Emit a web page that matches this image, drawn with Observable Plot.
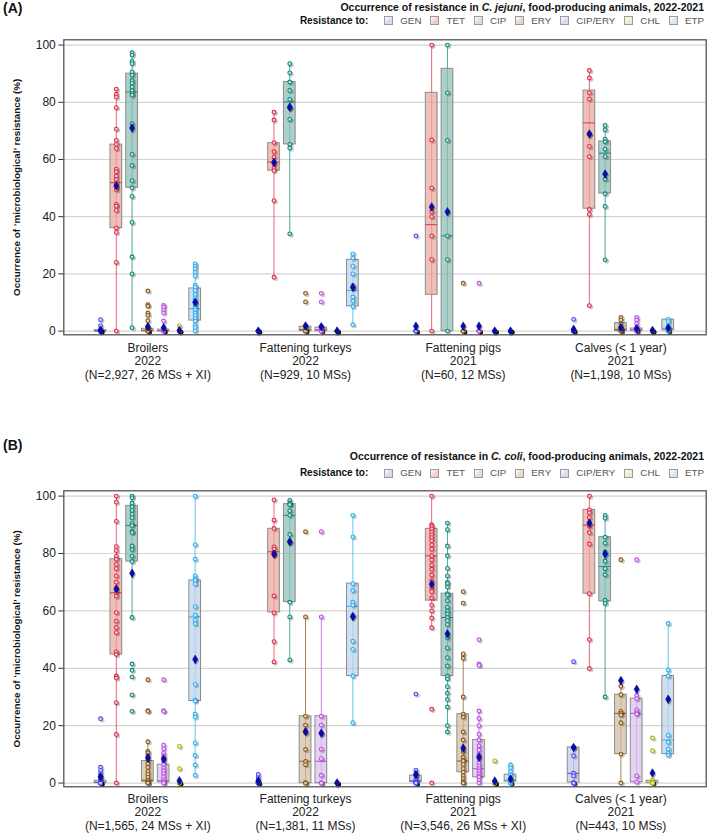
<!DOCTYPE html>
<html><head><meta charset="utf-8">
<script src="https://cdn.jsdelivr.net/npm/d3@7"></script>
<script src="https://cdn.jsdelivr.net/npm/@observablehq/plot@0.6"></script>
<style>
body{margin:0;background:#fff;}
#wrap{position:relative;width:709px;height:834px;font-family:"Liberation Sans",Arial,sans-serif;overflow:hidden;color:#111}
.abs{position:absolute;white-space:nowrap}
.tag{font-weight:bold;font-size:14px;left:3px}
.title{font-weight:bold;font-size:10.5px;right:5px;line-height:12px}
.legend{display:flex;align-items:center;font-size:9.8px;color:#555;right:5px;line-height:12px}
.legend b{color:#111;margin-right:16px;font-size:10px}
.sw{display:inline-block;width:7px;height:7px;border:1px solid #9a9a9a;margin-right:7px}
.lab{margin-right:9px}
.lab:last-child{margin-right:0}
svg{position:absolute;left:0}
</style></head>
<body><div id="wrap"></div>
<script>
const groups = ["Broilers","Fattening turkeys","Fattening pigs","Calves (< 1 year)"];
const drugs = ["GEN","TET","CIP","ERY","CIP/ERY","CHL","ETP"];
const jejuniYears = ["2022","2022","2021","2021"];
const jejuniN = ["(N=2,927, 26 MSs + XI)","(N=929, 10 MSs)","(N=60, 12 MSs)","(N=1,198, 10 MSs)"];
const coliYears = ["2022","2022","2021","2021"];
const coliN = ["(N=1,565, 24 MSs + XI)","(N=1,381, 11 MSs)","(N=3,546, 26 MSs + XI)","(N=443, 10 MSs)"];
const yTicks = [0,20,40,60,80,100];

// box statistics: group, antimicrobial, whisker low, Q1, median, Q3, whisker high, mean
const jejuniBox = [
["Broilers","GEN",0,0,0,0.3,0.6,0.3],
["Broilers","TET",0,36,51.9,65.2,84.6,50.8],
["Broilers","CIP",1.2,50.1,83.6,90,97.3,71],
["Broilers","ERY",0,0,0.2,0.8,1.5,1.5],
["Broilers","CIP/ERY",0,0,0,0.5,1,1.2],
["Broilers","CHL",0,0,0,0,0,0.2],
["Broilers","ETP",0,3.7,7.8,14.9,23.5,10.1],
["Fattening turkeys","GEN",0,0,0,0,0,0],
["Fattening turkeys","TET",18.8,56.1,59.1,65.7,76.5,59],
["Fattening turkeys","CIP",34,65.3,80.1,87.1,93.5,78.3],
["Fattening turkeys","ERY",0,0,0.5,1.5,1.8,1.8],
["Fattening turkeys","CIP/ERY",0,0,0.5,1.2,1.5,1.5],
["Fattening turkeys","CHL",0,0,0,0,0,0],
["Fattening turkeys","ETP",2.2,8.7,14.2,24.9,27,15.3],
["Fattening pigs","GEN",0,0,0,0,0,1.7],
["Fattening pigs","TET",0,12.7,37.2,83.3,100,43.4],
["Fattening pigs","CIP",0,0,33.3,91.7,100,41.7],
["Fattening pigs","ERY",0,0,0,0,0,1.7],
["Fattening pigs","CIP/ERY",0,0,0,0,0,1.7],
["Fattening pigs","CHL",0,0,0,0,0,0],
["Fattening pigs","ETP",0,0,0,0,0,0],
["Calves (< 1 year)","GEN",0,0,0,0,0,0.6],
["Calves (< 1 year)","TET",8.9,42.8,72.8,84.1,91.1,68.9],
["Calves (< 1 year)","CIP",24.9,48.1,62.2,66.3,71.9,54.9],
["Calves (< 1 year)","ERY",0,0,0.6,2.8,4.8,1.2],
["Calves (< 1 year)","CIP/ERY",0.1,0.1,0.4,0.9,1.3,0.8],
["Calves (< 1 year)","CHL",0,0,0,0,0,0.2],
["Calves (< 1 year)","ETP",0,0.3,1,4,4.1,1.05]
];
const jejuniPoints = [
["Broilers","GEN",[4,1.9,0.6,0,0,0,0,0,0,0,0,0,0]],
["Broilers","TET",[84.6,82.8,81.8,78.1,70.6,66.7,65.3,63.8,56.6,55.7,54.2,53,51.7,50.3,49.4,44.3,43.7,42.2,36.1,34.5,24,0]],
["Broilers","CIP",[97.3,96.5,94.3,93.5,90.6,89.5,87.6,86.7,85.3,84.1,83,82.5,72.5,61.8,57.9,52.6,50.1,47.1,38,25.9,20,1.2]],
["Broilers","ERY",[14,9.2,8.7,6.3,5.5,3.6,1.5,0.6,0.3,0,0,0,0,0,0,0,0]],
["Broilers","CIP/ERY",[9,8.4,7.3,6.3,3.5,0.8,0.3,0,0,0,0,0,0,0,0]],
["Broilers","CHL",[1.8,0,0,0,0,0,0,0,0,0,0,0,0]],
["Broilers","ETP",[23.5,22.7,21.8,20.5,19.3,16,15.3,14.2,12.8,11.5,10.5,9.8,8.9,8,7.3,6.3,5.5,4.5,3.5,2,1.2,0]],
["Fattening turkeys","GEN",[0,0,0,0,0,0,0,0,0,0]],
["Fattening turkeys","TET",[76.5,73.8,65.9,62.7,60.8,58.5,56.9,56.1,45.6,18.8]],
["Fattening turkeys","CIP",[93.5,90.3,87.1,84.1,81,78,74,65.3,64,34]],
["Fattening turkeys","ERY",[13.2,10.2,1.8,0.5,0.3,0,0,0,0,0]],
["Fattening turkeys","CIP/ERY",[13.2,10.2,1.5,0.6,0.2,0,0,0,0,0]],
["Fattening turkeys","CHL",[0,0,0,0,0,0,0,0,0,0]],
["Fattening turkeys","ETP",[27,25.5,22.7,20,16,15.2,11.9,10.5,8.6,2.2]],
["Fattening pigs","GEN",[33.3,0,0,0,0,0,0,0,0,0,0,0]],
["Fattening pigs","TET",[100,66.8,50,41.7,40,33.3,25,0]],
["Fattening pigs","CIP",[100,83.3,66.7,33.3,25,0]],
["Fattening pigs","ERY",[16.7,0,0,0,0,0,0,0,0,0,0,0]],
["Fattening pigs","CIP/ERY",[16.7,0,0,0,0,0,0,0,0,0,0,0]],
["Fattening pigs","CHL",[0,0,0,0,0,0,0,0,0,0,0,0]],
["Fattening pigs","ETP",[0,0,0,0,0,0,0,0,0,0,0,0]],
["Calves (< 1 year)","GEN",[4.1,0,0,0,0,0,0,0,0,0]],
["Calves (< 1 year)","TET",[91.1,88.5,83.3,81.1,69,64.6,61,42.5,40.8,8.9]],
["Calves (< 1 year)","CIP",[71.9,70.4,67.1,66.2,63.6,61,53.1,48,43.6,24.9]],
["Calves (< 1 year)","ERY",[4.8,3.9,2.4,1.2,0.8,0,0,0,0,0]],
["Calves (< 1 year)","CIP/ERY",[4.8,3.9,2.6,1.3,0.7,0.2,0,0,0,0]],
["Calves (< 1 year)","CHL",[0.4,0,0,0,0,0,0,0,0,0]],
["Calves (< 1 year)","ETP",[4.1,3.3,1.9,0.7,0,0,0,0,0,0]]
];
const coliBox = [
["Broilers","GEN",0,0,0.3,0.8,5.5,2.2],
["Broilers","TET",0,44.8,66.3,78,100,67.6],
["Broilers","CIP",57.7,77.2,89.8,96.6,100,73.1],
["Broilers","ERY",0,0.5,1,7.7,14.4,8.8],
["Broilers","CIP/ERY",0,0.3,0.8,6.4,13.2,8.4],
["Broilers","CHL",0,0,0,0,0,0.8],
["Broilers","ETP",2.7,28.6,57.9,70.6,100,43.1],
["Fattening turkeys","GEN",0,0,0,0,0,0.7],
["Fattening turkeys","TET",42.2,59.5,80.6,88.6,98.7,79.8],
["Fattening turkeys","CIP",42.9,63.1,93.3,97.2,98.5,84.1],
["Fattening turkeys","ERY",0,0,7.6,23.3,57.9,18],
["Fattening turkeys","CIP/ERY",0,0,7.6,23.3,57.9,17.4],
["Fattening turkeys","CHL",0,0,0,0,0,0],
["Fattening turkeys","ETP",21,37.3,61.6,69.5,93.3,58],
["Fattening pigs","GEN",0,0.3,0.8,2.6,4.5,2.9],
["Fattening pigs","TET",54.1,63.6,79.2,88.6,100,69.3],
["Fattening pigs","CIP",17.8,37.3,57.7,66,90.6,52],
["Fattening pigs","ERY",0,3.8,7.7,24,45,12.2],
["Fattening pigs","CIP/ERY",0,2,5,15,25.1,9.1],
["Fattening pigs","CHL",0,0,0,0,0,0.7],
["Fattening pigs","ETP",0,0.5,1,2.9,6.3,1.4],
["Calves (< 1 year)","GEN",0,0.2,3.4,12.4,12.4,12.4],
["Calves (< 1 year)","TET",39.9,66,89.9,95.2,100,90.6],
["Calves (< 1 year)","CIP",30,63.3,75.5,85.7,93.3,79.8],
["Calves (< 1 year)","ERY",0,10.1,24.3,30.8,33.7,35.7],
["Calves (< 1 year)","CIP/ERY",0.3,0.3,24.3,29.4,30.5,32.7],
["Calves (< 1 year)","CHL",0,0,0.3,0.8,1,3.5],
["Calves (< 1 year)","ETP",9.7,10.1,15,37.3,55.6,29.2]
];
const coliPoints = [
["Broilers","GEN",[22.4,5.5,4.4,3.3,2.4,1.6,0.8,0.3,0,0,0,0,0,0,0,0,0,0,0,0]],
["Broilers","TET",[100,97.9,91.2,82.4,81,79,78,76.2,74.7,72.2,70,68,66.4,65.1,59.4,56.4,54.2,52.4,45.7,44.8,37.3,36.6,28,16.9,0]],
["Broilers","CIP",[100,99.4,97.5,96.3,95,93.7,92.5,90.4,89.7,87.7,87.3,82.6,81.4,79.1,77.2,57.7,41.5,39.3,37,30.7,25]],
["Broilers","ERY",[36,25.2,25,14.4,11,10.5,9.5,8,6.7,5.5,4,3,2,1,0.5,0,0,0]],
["Broilers","CIP/ERY",[36,25.2,25,13.2,12,10.5,9.5,8.7,7.5,6.5,5.2,4.3,3.3,2.2,1.2,0.5,0,0]],
["Broilers","CHL",[12.8,5,0,0,0,0,0,0,0,0,0,0]],
["Broilers","ETP",[100,83.1,78,72.2,71.2,70.6,69.4,61.5,58.5,56.7,55.5,34.4,29,28.6,24,23,14,9.6,6.3,2.7]],
["Fattening turkeys","GEN",[3,1.8,0.6,0,0,0,0,0,0,0,0]],
["Fattening turkeys","TET",[98.7,91.6,88.7,82.3,81.5,80.3,79.5,65.2,59.3,49.3,42.2]],
["Fattening turkeys","CIP",[98.5,97.6,97.2,97,94.9,93.3,86.6,84,63,57.9,42.9]],
["Fattening turkeys","ERY",[87.6,57.9,23.3,20.2,17.5,11.7,7.5,6.4,0,0,0]],
["Fattening turkeys","CIP/ERY",[87.6,57.9,23.3,20.2,17.3,11.8,8.5,2.7,0,0,0]],
["Fattening turkeys","CHL",[0,0,0,0,0,0,0,0,0,0,0]],
["Fattening turkeys","ETP",[93.3,85.8,69.5,67.1,63,62,58.5,49.4,46.6,37.3,21]],
["Fattening pigs","GEN",[31,4.5,3.5,2.5,1.5,0.5,0,0,0,0,0,0,0,0,0]],
["Fattening pigs","TET",[100,90,89.5,88.6,87.5,86.5,85.5,84.5,83,81.5,79.2,77.8,76,74.5,72.5,70.5,68,66.7,64.5,62,60,57.5,54.1,25.7,0]],
["Fattening pigs","CIP",[90.6,88.3,82.6,79.2,74.8,72.2,70,69.5,68.3,66,65.6,63.6,61.3,59.9,59,57.7,56.6,55.2,50.6,47.1,43.7,40.8,37.3,36.3,33.6,31.3,29.1,26.5,20,17.8]],
["Fattening pigs","ERY",[66.7,62.7,45,43.5,30,24,23,17.8,15,11,9,8,7.7,6.5,5,3.8,2.5,1.5,0.5,0,0]],
["Fattening pigs","CIP/ERY",[50,41.5,41,25.1,22.5,20,17,15,13,11.5,10,8.5,7,6,5,4.2,3.3,2.5,2,1,0]],
["Fattening pigs","CHL",[7.7,0,0,0,0,0,0,0,0,0,0,0,0,0,0]],
["Fattening pigs","ETP",[6.3,5.3,4,2.9,1.5,0.5,0,0,0,0,0,0]],
["Calves (< 1 year)","GEN",[42.3,12.4,9.5,3.4,2.5,0,0,0,0,0]],
["Calves (< 1 year)","TET",[100,95.2,94.2,92.5,89.5,87.3,83.3,66,50,39.9]],
["Calves (< 1 year)","CIP",[93.3,92.3,85.7,83.6,80.5,77.3,74.7,72.6,63.7,62.6,30]],
["Calves (< 1 year)","ERY",[77.8,33.7,30.8,25,24.3,23.7,21,10.1,0]],
["Calves (< 1 year)","CIP/ERY",[77.8,30.5,29.4,25.5,24.5,24,2.5,0.3]],
["Calves (< 1 year)","CHL",[15.7,11.3,1,0.3,0,0,0,0,0]],
["Calves (< 1 year)","ETP",[55.6,39.4,37.3,16.7,14.2,11.8,10.4,9.7]]
];

const mainColor = {"GEN":"#4b4bf0","TET":"#e0304c","CIP":"#128a7a","ERY":"#8a5a1c","CIP/ERY":"#c050e8","CHL":"#a6b822","ETP":"#2fb2f0"};
const boxColor = {"GEN":"#c9d0ee","TET":"#eeaea4","CIP":"#93c5bb","ERY":"#d8c4aa","CIP/ERY":"#e0c8f2","CHL":"#e9e9b8","ETP":"#c4d9f1"};
const paleColor = {"GEN":"#d6d6ff","TET":"#f8c8d0","CIP":"#bfe3dc","ERY":"#e6d2b8","CIP/ERY":"#f0d2fa","CHL":"#eef2b0","ETP":"#c8ecff"};
const swatchColor = {"GEN":"#d3dbef","TET":"#f3cbc8","CIP":"#cfe4df","ERY":"#e8d8c8","CIP/ERY":"#e5d3f2","CHL":"#efebc4","ETP":"#d6e4f4"};

const gi = Object.fromEntries(groups.map((g,i)=>[g,i]));
const di = Object.fromEntries(drugs.map((d,i)=>[d,i]));
const pos = (g,d) => gi[g]*10 + di[d];
const HW = 0.37;

const wrap = document.getElementById("wrap");
function addDiv(cls, html, top){
  const el = document.createElement("div");
  el.className = "abs " + cls; el.innerHTML = html; el.style.top = top + "px";
  wrap.appendChild(el); return el;
}
function legendHTML(){
  return "<b>Resistance to:</b>" + drugs.map(d=>`<span class="sw" style="background:linear-gradient(135deg,#fff 0%,${swatchColor[d]} 60%)"></span><span class="lab">${d}</span>`).join("");
}

function panel(boxRows, ptRows, years, ns, svgTop, height, marginBottom, labelDy){
  const boxes = boxRows.map(([g,d,lo,q1,med,q3,hi,mean])=>({g,d,x:pos(g,d),lo,q1,med,q3,hi,mean}));
  const pts = ptRows.flatMap(([g,d,vals])=>vals.map(v=>({g,d,x:pos(g,d),v})));
  const labels = groups.map((g,i)=>({x:pos(g,"ERY"), text: g + "\n" + years[i] + "\n" + ns[i]}));
  const svg = Plot.plot({
    width: 709, height, marginTop: 5.3, marginBottom, marginLeft: 63.3, marginRight: 3.3,
    style: {fontFamily: "'Liberation Sans', Arial, sans-serif", fontSize: "12px", color: "#222", background: "transparent", overflow: "visible"},
    x: {domain: [-2.33, 38.41], axis: null},
    y: {domain: [-1.3, 101.85], axis: null},
    color: {type: "identity"},
    marks: [
      Plot.gridY(yTicks, {stroke: "#d4d4d4", strokeOpacity: 1, strokeWidth: 1.2}),
      Plot.ruleX(boxes.filter(b=>b.hi>b.lo), {x: "x", y1: "lo", y2: "hi", stroke: d=>mainColor[d.d], strokeWidth: 1, strokeOpacity: 0.75}),
      Plot.rect(boxes.filter(b=>b.q3>b.q1), {x1: d=>d.x-HW+0.06, x2: d=>d.x+HW+0.06, y1: "q1", y2: "q3", fill: "#000", fillOpacity: 0.08, dy: 1}),
      Plot.rect(boxes.filter(b=>b.q3>b.q1), {x1: d=>d.x-HW, x2: d=>d.x+HW, y1: "q1", y2: "q3", fill: d=>boxColor[d.d], fillOpacity: 0.72, stroke: "#8c8c8c", strokeWidth: 1}),
      Plot.ruleY(boxes.filter(b=>b.q3>b.q1), {y: "med", x1: d=>d.x-HW, x2: d=>d.x+HW, stroke: d=>mainColor[d.d], strokeWidth: 1}),
      Plot.dot(pts, {x: "x", y: "v", r: 2.4, fill: "#000", fillOpacity: 0.22, dx: 1.6, dy: 1.4}),
      Plot.dot(pts, {x: "x", y: "v", r: 1.9, fill: d=>paleColor[d.d], stroke: d=>mainColor[d.d], strokeWidth: 1.1}),
      Plot.dot(boxes, {x: "x", y: "mean", symbol: "diamond", r: 2.7, fill: "#000", fillOpacity: 0.3, dx: 1.4, dy: 1.4}),
      Plot.dot(boxes, {x: "x", y: "mean", symbol: "diamond", r: 2.6, fill: "#0a0ab4", stroke: "#00008a", strokeWidth: 0.6}),
      Plot.frame({stroke: "#555", strokeWidth: 1.3}),
      Plot.axisY(yTicks, {tickSize: 5, tickPadding: 3, fontSize: 12, label: null, stroke: "#333"}),
      Plot.text(["Occurrence of \u2018microbiological\u2019 resistance (%)"], {frameAnchor: "left", textAnchor: "middle", rotate: -90, dx: -47, fontWeight: "bold", fontSize: 9.9, fill: "#111"}),
      Plot.text(labels, {x: "x", text: "text", frameAnchor: "bottom", lineAnchor: "top", dy: labelDy, fontSize: 12, lineHeight: 1.15, fill: "#222"})
    ]
  });
  svg.style.top = svgTop + "px";
  wrap.appendChild(svg);
}

// Panel A
addDiv("tag", "(A)", 0);
addDiv("title", "Occurrence of resistance in <i>C. jejuni</i>, food-producing animals, 2022-2021", 1);
addDiv("legend", legendHTML(), 14.5);
panel(jejuniBox, jejuniPoints, jejuniYears, jejuniN, 34, 360, 59.7, 7);

// Panel B
addDiv("tag", "(B)", 437);
addDiv("title", "Occurrence of resistance in <i>C. coli</i>, food-producing animals, 2022-2021", 450);
addDiv("legend", legendHTML(), 467);
panel(coliBox, coliPoints, coliYears, coliN, 485.4, 348.6, 47.3, 6);
</script></body></html>
